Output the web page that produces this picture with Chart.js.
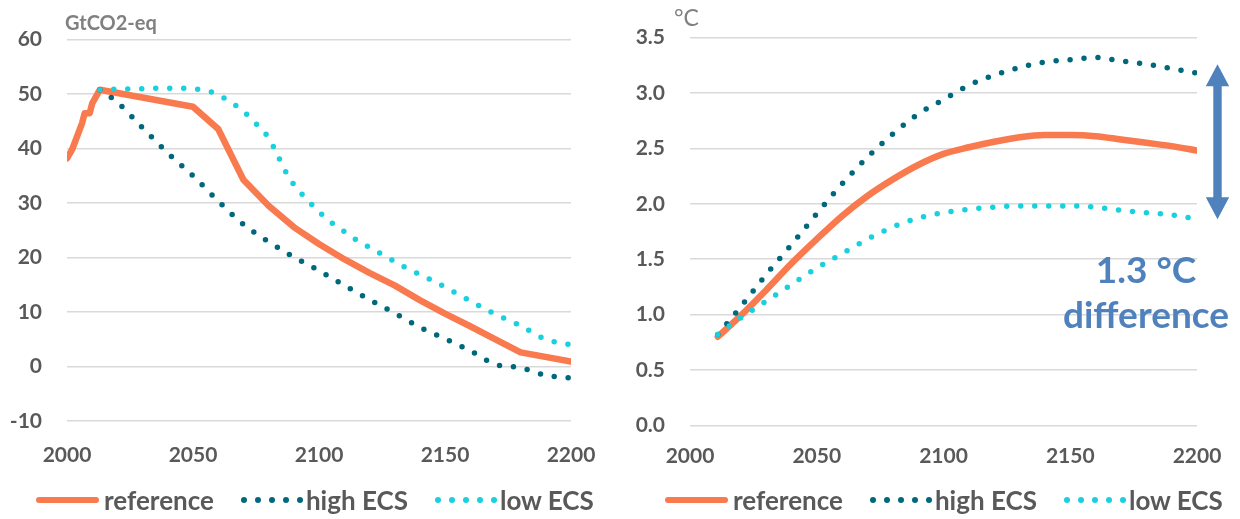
<!DOCTYPE html>
<html>
<head>
<meta charset="utf-8">
<script src="https://cdn.jsdelivr.net/npm/chart.js@4.4.1/dist/chart.umd.min.js"></script>
<style>
html,body{margin:0;padding:0;background:#fff;}
#wrap{position:relative;width:1240px;height:519px;overflow:hidden;font-family:Lato,'Open Sans',sans-serif;}
canvas{position:absolute;top:0;}
#cLeft{left:0;} #cRight{left:620px;}
.unit{position:absolute;color:#808080;font-size:20px;font-weight:700;white-space:nowrap;}
.legend{position:absolute;top:486px;height:28px;display:flex;align-items:center;}
.legend .item{display:flex;align-items:center;margin-right:24px;color:#595959;font-size:26px;font-weight:700;white-space:nowrap;}
.legend .sw{position:relative;width:63px;height:8px;margin-right:5px;}
.legend .bar{position:absolute;left:0;top:1px;width:63px;height:6px;border-radius:3px;}
.legend .dot{position:absolute;top:1px;width:6px;height:6px;border-radius:50%;}
.note{position:absolute;left:1046px;top:246px;width:200px;color:#4f81bd;font-size:37px;font-weight:700;line-height:45px;text-align:center;white-space:nowrap;}
</style>
</head>
<body>
<div id="wrap">
  <canvas id="cLeft" width="620" height="519"></canvas>
  <canvas id="cRight" width="620" height="519"></canvas>
  <div class="unit" style="left:65px;top:10px;">GtCO2-eq</div>
  <div class="unit" style="left:674px;top:3px;font-weight:400;font-size:23px;">°C</div>
  <div class="legend" id="legLeft" style="left:36px;"></div>
  <div class="legend" id="legRight" style="left:665px;"></div>
  <div class="note">1.3 °C<br>difference</div>
</div>
<script>
// series names + colours
const seriesNames = ['reference', 'high ECS', 'low ECS'];
const seriesColors = ['#f97a4e', '#00687c', '#19d0de'];

// left: emissions (GtCO2-eq)
const emisRefYears = [2000, 2002, 2006, 2007, 2009, 2010, 2013, 2050, 2060, 2070, 2080, 2090, 2100, 2110, 2120, 2130, 2140, 2150, 2160, 2170, 2180, 2200];
const emisRef = [38.2, 39.8, 44.7, 46.5, 46.5, 48.3, 50.8, 47.7, 43.6, 34.3, 29.5, 25.6, 22.5, 19.7, 17.2, 14.9, 12.2, 9.7, 7.4, 5.0, 2.6, 0.9];
const emisHighYears = [2013, 2020, 2030, 2040, 2050, 2060, 2070, 2080, 2090, 2100, 2110, 2120, 2130, 2140, 2150, 2160, 2170, 2180, 2190, 2200];
const emisHigh = [50.8, 48.5, 43.8, 39.2, 35.0, 30.4, 26.1, 22.9, 20.1, 17.6, 14.9, 12.3, 9.8, 7.2, 5.1, 2.9, 0.4, -0.2, -1.6, -2.1];
const emisLowYears = [2013, 2020, 2030, 2040, 2047, 2053, 2058, 2063, 2068, 2072, 2076, 2080, 2084, 2087, 2090, 2095, 2100, 2105, 2110, 2115, 2125, 2135, 2145, 2155, 2165, 2170, 2180, 2190, 2200];
const emisLow = [50.8, 50.9, 51.0, 51.1, 51.1, 50.8, 50.3, 49.1, 47.6, 46.0, 44.1, 42.0, 38.4, 35.6, 33.4, 30.8, 28.4, 26.4, 24.8, 23.2, 20.6, 18.0, 15.8, 13.3, 10.8, 9.6, 7.5, 5.0, 4.0];

// right: temperature (°C)
const tempYears = [2011, 2020, 2030, 2040, 2050, 2060, 2070, 2080, 2090, 2100, 2110, 2120, 2130, 2140, 2150, 2160, 2170, 2180, 2190, 2200];
const tempRef = [0.80, 0.99, 1.22, 1.46, 1.68, 1.89, 2.07, 2.22, 2.35, 2.45, 2.51, 2.56, 2.60, 2.62, 2.62, 2.61, 2.58, 2.55, 2.52, 2.48];
const tempHigh = [0.82, 1.07, 1.36, 1.63, 1.91, 2.18, 2.42, 2.63, 2.81, 2.94, 3.07, 3.16, 3.23, 3.28, 3.30, 3.32, 3.29, 3.26, 3.22, 3.18];
const tempLow = [0.82, 0.97, 1.12, 1.27, 1.42, 1.55, 1.68, 1.79, 1.87, 1.92, 1.95, 1.97, 1.98, 1.98, 1.98, 1.97, 1.94, 1.92, 1.90, 1.86];

// span of the "difference" arrow, in °C
const arrowSpan = [1.86, 3.26];

(function(){
  const tickFont = {family: 'Lato', size: 21, weight: 'bold'};
  const tickColor = '#595959';
  const gridColor = '#d9d9d9';

  function pts(xs, ys){ return xs.map((x,i)=>({x:x, y:ys[i]})); }

  function sets(years, vals, smoothRef){
    return vals.map((v,i)=>{
      const yrs = Array.isArray(years[0]) ? years[i] : years;
      const ds = {
        label: seriesNames[i], data: pts(yrs, v), borderColor: seriesColors[i],
        pointRadius: 0, pointHoverRadius: 0, fill: false, order: 3 - i,
        borderCapStyle: 'round', borderJoinStyle: 'round'
      };
      if(i === 0){
        ds.borderWidth = 6.5;
        ds.cubicInterpolationMode = smoothRef ? 'monotone' : 'default';
        ds.tension = 0;
      } else {
        ds.borderWidth = 5.5;
        ds.borderDash = [0, 14];
        ds.cubicInterpolationMode = 'monotone';
      }
      return ds;
    });
  }

  function opts(cfg){
    return {
      responsive: false, animation: false, devicePixelRatio: 1,
      layout: {padding: {top: cfg.top, right: cfg.right, bottom: 0, left: 0}},
      plugins: {legend: {display: false}, tooltip: {enabled: false}},
      scales: {
        x: {
          type: 'linear', min: 2000, max: 2200,
          grid: {display: false, drawTicks: false}, border: {display: false},
          ticks: {stepSize: 50, font: tickFont, color: tickColor, padding: cfg.xpad, maxRotation: 0,
            callback: v => String(v)},
          afterFit: s => { s.height = cfg.xh; }
        },
        y: {
          min: cfg.ymin, max: cfg.ymax,
          grid: {color: gridColor, lineWidth: 1.6, drawTicks: false}, border: {display: false},
          ticks: {stepSize: cfg.step, font: tickFont, color: tickColor, padding: 25,
            callback: cfg.fmt},
          afterFit: s => { s.width = cfg.yw; }
        }
      }
    };
  }

  new Chart(document.getElementById('cLeft').getContext('2d'), {
    type: 'line',
    data: {datasets: sets([emisRefYears, emisHighYears, emisLowYears], [emisRef, emisHigh, emisLow], false)},
    options: opts({top: 39.7, right: 49, xh: 98, xpad: 22, yw: 67, ymin: -10, ymax: 60, step: 10, fmt: v => String(v)})
  });

  const arrowPlugin = {
    id: 'diffArrow',
    afterDraw(chart){
      const ys = chart.scales.y, ctx = chart.ctx;
      const top = ys.getPixelForValue(arrowSpan[1]), bot = ys.getPixelForValue(arrowSpan[0]);
      const x = chart.chartArea.right + 20.5, hw = 11.7, hh = 22, sw = 4.2;
      ctx.save();
      ctx.fillStyle = '#4f81bd';
      ctx.beginPath();
      ctx.moveTo(x, top);
      ctx.lineTo(x+hw, top+hh); ctx.lineTo(x+sw, top+hh);
      ctx.lineTo(x+sw, bot-hh); ctx.lineTo(x+hw, bot-hh);
      ctx.lineTo(x, bot);
      ctx.lineTo(x-hw, bot-hh); ctx.lineTo(x-sw, bot-hh);
      ctx.lineTo(x-sw, top+hh); ctx.lineTo(x-hw, top+hh);
      ctx.closePath(); ctx.fill();
      ctx.restore();
    }
  };

  new Chart(document.getElementById('cRight').getContext('2d'), {
    type: 'line',
    data: {datasets: sets(tempYears, [tempRef, tempHigh, tempLow], true)},
    options: opts({top: 36.8, right: 43, xh: 93.7, xpad: 18, yw: 70, ymin: 0, ymax: 3.5, step: 0.5, fmt: v => v.toFixed(1)}),
    plugins: [arrowPlugin]
  });

  // html legends
  function buildLegend(id){
    const el = document.getElementById(id);
    seriesNames.forEach((name,i)=>{
      const item = document.createElement('div'); item.className = 'item';
      const sw = document.createElement('div'); sw.className = 'sw';
      if(i === 0){
        const b = document.createElement('div'); b.className = 'bar'; b.style.background = seriesColors[i];
        sw.appendChild(b);
      } else {
        for(let k=0;k<5;k++){
          const d = document.createElement('div'); d.className = 'dot';
          d.style.left = (3 + k*14) + 'px'; d.style.background = seriesColors[i];
          sw.appendChild(d);
        }
      }
      const t = document.createElement('span'); t.textContent = name;
      item.appendChild(sw); item.appendChild(t);
      el.appendChild(item);
    });
  }
  buildLegend('legLeft');
  buildLegend('legRight');
})();
</script>
</body>
</html>
